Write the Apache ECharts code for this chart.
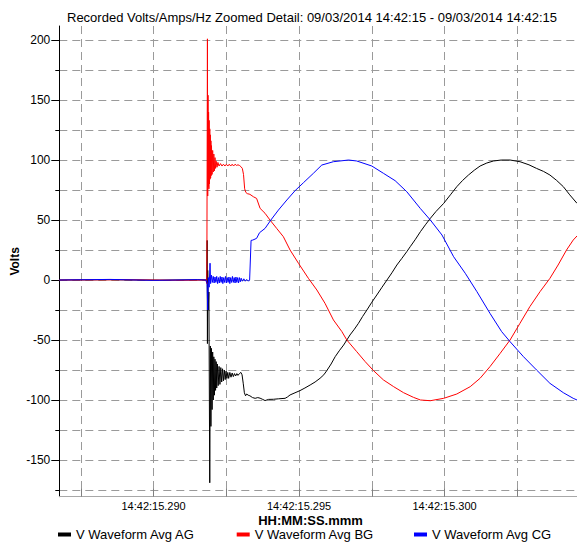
<!DOCTYPE html>
<html>
<head>
<meta charset="utf-8">
<script src="https://cdn.jsdelivr.net/npm/echarts@6/dist/echarts.min.js"></script>
<style>
html,body{margin:0;padding:0;background:#fff;}
#chart{width:577px;height:544px;}
</style>
</head>
<body>
<div id="chart"></div>
<script>
// Time in milliseconds after 14:42:15 (value 290 -> 14:42:15.290), volts
const seriesNames = ['V Waveform Avg AG', 'V Waveform Avg BG', 'V Waveform Avg CG'];
const seriesColors = ['#000000', '#ff0000', '#0000ff'];

const agData = [
  [286.76,0],[288.5,0.3],[290.2,-0.2],[291.5,0.2],[291.8,0],[291.83,0],[291.84,33],[291.85,-53],[291.86,8],[291.88,-25],[291.90,-10],
  [291.93,-169],[291.95,-55],[291.97,-122],[291.99,-57],[292.01,-108],[292.03,-60],[292.05,-100],[292.07,-64],[292.09,-96],[292.11,-66],
  [292.13,-92],[292.15,-68],[292.17,-90],[292.19,-70],[292.22,-88],[292.25,-72],[292.28,-87],[292.31,-73],[292.34,-85],[292.37,-74],
  [292.40,-84],[292.43,-75],[292.46,-83],[292.49,-76],[292.52,-82],[292.55,-77],[292.58,-82],[292.62,-77],[292.66,-81],[292.70,-77.5],
  [292.74,-80.5],[292.78,-78],[292.82,-80],[292.86,-78],[292.90,-79.5],[292.95,-78],[293.00,-77],[293.04,-79],[293.08,-86],[293.12,-94],
  [293.16,-96.5],[293.20,-95],[293.25,-96],[293.31,-96.5],[293.40,-98],[293.49,-98.6],[293.58,-98],[293.66,-98.5],[293.75,-99.5],
  [293.83,-100.5],[293.95,-99.5],[294.12,-99.4],[294.30,-99],[294.52,-98.6],[294.60,-97.5],[294.69,-95.8],[294.86,-94],[295.03,-92.2],
  [295.20,-90],[295.38,-87.5],[295.55,-85],[295.72,-81.9],[295.85,-79],[295.95,-75.6],[296.10,-70],[296.24,-63.9],[296.38,-59],
  [296.53,-54.2],[296.64,-50],[296.75,-45.8],[296.90,-41],[297.04,-36.1],[297.18,-30.5],[297.33,-25],[297.50,-18.5],[297.67,-12.5],
  [297.85,-6],[298.02,0],[298.19,6],[298.36,12.5],[298.53,18],[298.70,23.6],[298.82,27.8],[299.00,34],[299.17,40.3],[299.34,46],
  [299.51,51.4],[299.70,57],[299.97,63.9],[300.20,71],[300.42,77.8],[300.62,83],[300.82,87.5],[301.02,91.5],[301.22,95],[301.45,97.5],
  [301.68,99.2],[301.95,100],[302.25,100],[302.59,98.6],[302.90,96],[303.16,93],[303.40,90.5],[303.62,87.5],[303.85,83],[304.08,77.8],
  [304.30,71],[304.55,63.9]
];

const bgData = [
  [286.76,0],[289.0,0.2],[291.0,-0.2],[291.8,0],[291.83,-3],[291.85,201],[291.86,70],[291.87,154],[291.88,78],[291.89,140],[291.90,76],
  [291.91,133],[291.92,80],[291.93,126],[291.94,84],[291.95,121],[291.96,85],[291.97,116],[291.98,87],[291.99,112],[292.01,88],
  [292.03,108],[292.05,90],[292.07,105],[292.09,91],[292.11,102],[292.13,93],[292.15,99],[292.18,94],[292.21,98],[292.25,95],
  [292.30,97],[292.35,95],[292.40,96.5],[292.45,95],[292.50,96.5],[292.55,95],[292.60,96.5],[292.65,95],[292.70,96.5],[292.75,95],
  [292.80,96.5],[292.85,95.5],[292.90,96],[292.95,95.5],[293.00,94.5],[293.05,93],[293.09,88],[293.13,76],[293.17,73],[293.22,72],
  [293.31,71.4],[293.43,69.4],[293.54,68],[293.66,59.7],[293.83,55.6],[294.00,50],[294.23,43],[294.46,36.1],[294.69,25],[294.98,13.9],
  [295.32,1.4],[295.61,-8.3],[295.89,-19.4],[296.18,-33.3],[296.47,-43],[296.64,-50],[296.98,-59.7],[297.27,-68],[297.56,-75.6],
  [297.90,-83.3],[298.25,-88.9],[298.59,-93.9],[298.93,-97.8],[299.17,-100],[299.51,-100.6],[299.97,-98.6],[300.42,-95],[300.88,-88.9],
  [301.22,-81.9],[301.56,-72.2],[301.91,-61.1],[302.25,-50],[302.59,-36.1],[302.93,-22.2],[303.28,-9.7],[303.62,1.4],[303.90,12.5],
  [304.19,25],[304.42,33.3],[304.55,36.7]
];

const cgData = [
  [286.76,0],[288.5,0.5],[290.0,-0.3],[291.5,0.3],[291.80,0],[291.84,-3],[291.86,-25],[291.88,2],[291.91,-6],[291.94,14],[291.96,-3],
  [291.99,4],[292.02,-2],[292.05,3],[292.08,-2.5],[292.11,2.5],[292.14,-2],[292.17,3],[292.20,-3],[292.23,2],[292.26,-2.5],[292.29,3],
  [292.32,-2],[292.35,2.5],[292.38,-3],[292.41,2],[292.44,-2],[292.47,3],[292.50,-2.5],[292.53,2],[292.56,-2],[292.59,2.5],[292.62,-3],
  [292.65,2],[292.68,-2],[292.71,3],[292.74,-2],[292.77,2],[292.80,-2.5],[292.83,2.5],[292.86,-2],[292.89,2],[292.92,-2.5],[292.95,2],
  [292.98,-1.5],[293.01,1.5],[293.05,-1],[293.10,1],[293.15,-1],[293.20,0.5],[293.26,-1],[293.30,0],[293.35,33],[293.41,33.3],
  [293.54,34.7],[293.64,39.4],[293.83,43],[294.03,50],[294.29,58.3],[294.58,66.7],[294.86,74.4],[295.15,81.1],[295.49,88.9],
  [295.78,95.8],[296.18,98.6],[296.70,100],[296.98,99.2],[297.50,95],[297.90,88.9],[298.30,82.8],[298.70,73.6],[299.17,59.5],
  [299.51,50],[299.91,37.5],[300.31,19.4],[300.71,5.6],[301.11,-9.7],[301.56,-27.8],[301.96,-43],[302.25,-51.4],[302.71,-63.9],
  [303.16,-75],[303.62,-86.1],[304.08,-93.9],[304.42,-98.6],[304.55,-100]
];

const xTickValues = [287.5, 290, 292.5, 295, 297.5, 300, 302.5];
const xLabelValues = [290, 295, 300];
const yMinorTicks = [-175, -150, -125, -100, -75, -50, -25, 0, 25, 50, 75, 100, 125, 150, 175, 200];
const yLabelValues = [-150, -100, -50, 0, 50, 100, 150, 200];

const titleText = 'Recorded Volts/Amps/Hz Zoomed Detail: 09/03/2014 14:42:15 - 09/03/2014 14:42:15';
const xAxisName = 'HH:MM:SS.mmm';
const yAxisName = 'Volts';
const timePrefix = '14:42:15.';

const FONT = 'Liberation Sans, Arial, sans-serif';
const X_MIN = 286.76, X_MAX = 304.55, Y_MIN = -180.6, Y_MAX = 211.7;

const chart = echarts.init(document.getElementById('chart'), null, {renderer: 'svg'});
const dataSets = [agData, bgData, cgData];
const legendLefts = [58, 236.7, 414];

const option = {
  animation: false,
  backgroundColor: '#ffffff',
  title: [
    {text: titleText, left: 312, top: 11, textAlign: 'center', padding: 0,
     textStyle: {fontFamily: FONT, fontSize: 13, fontWeight: 'normal', color: '#000'}},
    {text: xAxisName, left: 310.5, top: 514, textAlign: 'center', padding: 0,
     textStyle: {fontFamily: FONT, fontSize: 13, fontWeight: 'bold', color: '#000'}}
  ],
  legend: seriesNames.map((n, i) => ({
    data: [n], left: legendLefts[i], top: 528, padding: 0,
    icon: 'rect', itemWidth: 13, itemHeight: 4,
    textStyle: {fontFamily: FONT, fontSize: 13, color: '#000'}
  })),
  grid: {left: 59.3, right: 0, top: 26, bottom: 47.3, containLabel: false, outerBoundsMode: 'none'},
  xAxis: {
    type: 'value', min: X_MIN, max: X_MAX,
    axisLine: {show: true, onZero: false, lineStyle: {color: '#a8a8a8', width: 1}},
    axisTick: {show: true, inside: true, length: 8, customValues: xTickValues, lineStyle: {color: '#808080'}},
    axisLabel: {customValues: xLabelValues, margin: 4, fontFamily: FONT, fontSize: 11, color: '#000',
      formatter: v => timePrefix + Math.round(v).toString()},
    splitLine: {show: true, lineStyle: {type: [8, 5], color: '#9a9a9a', width: 1}}
  },
  yAxis: [
    {
      type: 'value', min: Y_MIN, max: Y_MAX, position: 'left',
      axisLine: {show: true, onZero: false, lineStyle: {color: '#000', width: 1}},
      axisTick: {show: true, length: 4, customValues: yMinorTicks, lineStyle: {color: '#000'}},
      axisLabel: {show: false},
      splitLine: {show: true, lineStyle: {type: [8, 5], color: '#9a9a9a', width: 1}}
    },
    {
      type: 'value', min: Y_MIN, max: Y_MAX, position: 'left', offset: 0,
      name: yAxisName, nameLocation: 'middle', nameGap: 38, nameMoveOverlap: false,
      nameTextStyle: {fontFamily: FONT, fontSize: 12, fontWeight: 'bold', color: '#000'},
      axisLine: {show: false, onZero: false},
      axisTick: {show: true, length: 8, customValues: yLabelValues, lineStyle: {color: '#000'}},
      axisLabel: {customValues: yLabelValues, margin: 9, fontFamily: FONT, fontSize: 12, color: '#000'},
      splitLine: {show: false}
    }
  ],
  series: seriesNames.map((n, i) => ({
    name: n, type: 'line', data: dataSets[i], xAxisIndex: 0, yAxisIndex: 0,
    showSymbol: false, symbol: 'none', smooth: false, clip: true,
    lineStyle: {color: seriesColors[i], width: 1},
    itemStyle: {color: seriesColors[i]}
  }))
};
chart.setOption(option);
</script>
</body>
</html>
